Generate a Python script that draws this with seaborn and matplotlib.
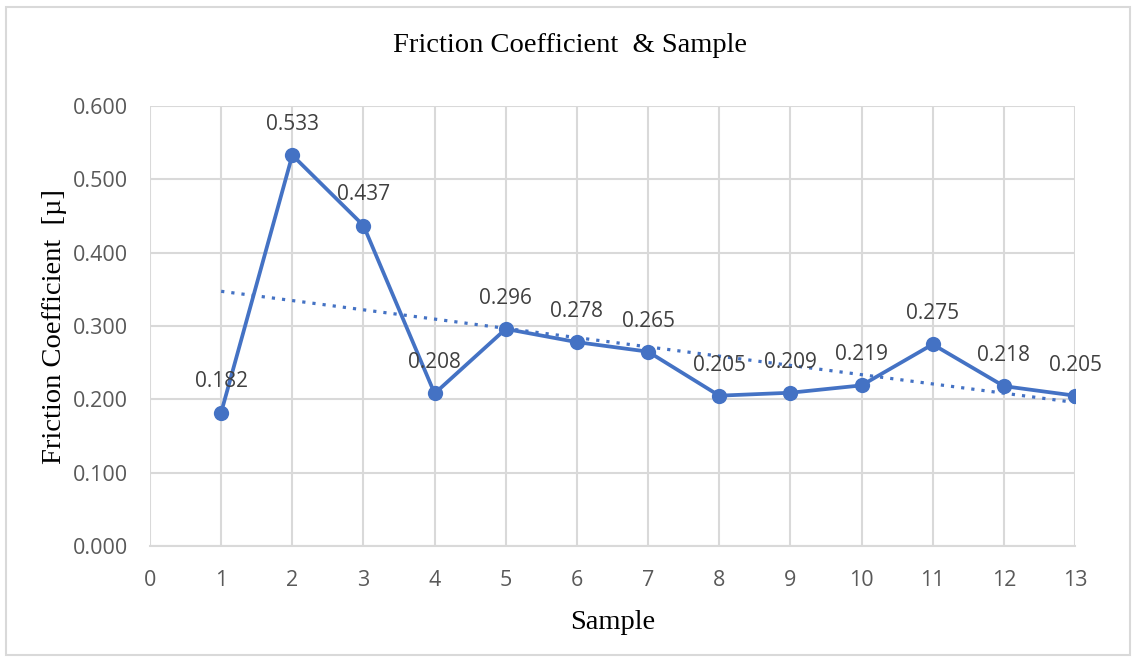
import matplotlib
matplotlib.use("Agg")
import matplotlib.pyplot as plt
import seaborn as sns
import pandas as pd
from matplotlib.patches import Rectangle

samples = [1, 2, 3, 4, 5, 6, 7, 8, 9, 10, 11, 12, 13]
friction = [0.182, 0.533, 0.437, 0.208, 0.296, 0.278, 0.265, 0.205, 0.209, 0.219, 0.275, 0.218, 0.205]
x_ticks = list(range(0, 14))
y_ticks = [0.0, 0.1, 0.2, 0.3, 0.4, 0.5, 0.6]

df = pd.DataFrame({"Sample": samples, "Friction": friction})

sns.set_theme(style="white")
plt.rcParams['font.family'] = ['Open Sans', 'DejaVu Sans']

fig = plt.figure(figsize=(11.36, 6.61), dpi=100)
ax = fig.add_axes([150/1136, 1-546/661, (1075-150)/1136, (546-106)/661])

blue = "#4472C4"
grid = "#D9D9D9"
txt = "#595959"

sns.regplot(data=df, x="Sample", y="Friction", ax=ax, scatter=False, ci=None, truncate=True,
            color=blue, line_kws=dict(linestyle=(0, (1, 2.2)), linewidth=2.3, zorder=2))
sns.lineplot(data=df, x="Sample", y="Friction", ax=ax, color=blue, linewidth=2.7,
             marker="o", markersize=11, markeredgewidth=0, zorder=3)

for xv, yv in zip(samples, friction):
    ax.annotate(f"{yv:.3f}", (xv, yv), xytext=(0, 22), textcoords="offset points",
                ha="center", va="center", fontsize=15, color="#404040", zorder=4)

ax.set_xlim(0, 13)
ax.set_ylim(0, 0.6)
ax.set_xticks(x_ticks)
ax.set_xticklabels([str(t) for t in x_ticks])
ax.set_yticks(y_ticks)
ax.set_yticklabels([f"{t:.3f}" for t in y_ticks])
ax.tick_params(axis="both", labelsize=15.5, labelcolor=txt, length=0)
ax.tick_params(axis="y", pad=16)
ax.tick_params(axis="x", pad=17)
ax.grid(True, color=grid, linewidth=1.5)
ax.set_axisbelow(True)
for s in ["top", "right", "left"]:
    ax.spines[s].set_visible(False)
ax.spines["bottom"].set_color(grid)
ax.spines["bottom"].set_linewidth(1.5)

serif = ['Liberation Serif', 'DejaVu Serif']
ax.set_xlabel("Sample", fontsize=20.5, family=serif, color="black", labelpad=14)
ax.set_ylabel("Friction Coefficient  [µ]", fontsize=20.5, family=serif, color="black", labelpad=4)
fig.text(0.502, 1-46/661, "Friction Coefficient  & Sample", ha="center", va="center",
         fontsize=20.5, family=serif, color="black")

fig.patches.append(Rectangle((6/1136, 1-655/661), 1124/1136, 648/661, transform=fig.transFigure,
                             fill=False, edgecolor=grid, linewidth=1.5))

fig.savefig("out.png", dpi=100)
